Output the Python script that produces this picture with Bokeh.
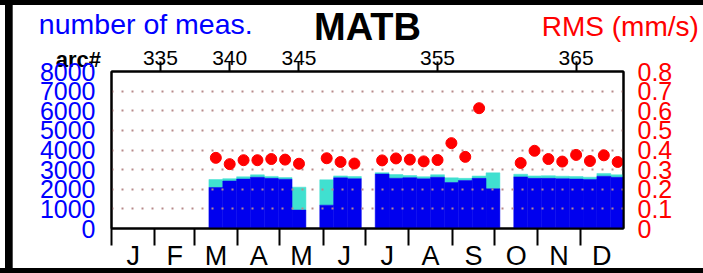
import numpy as np
from bokeh.plotting import figure
from bokeh.models import (Range1d, LinearAxis, FixedTicker,
                          ColumnDataSource, Grid, CustomJSTickFormatter, NumeralTickFormatter)
from bokeh.embed import file_html
from bokeh.resources import INLINE

# ---------------- data ----------------
arcs = [339, 340, 341, 342, 343, 344, 345, 347, 348, 349, 351, 352, 353, 354,
        355, 356, 357, 358, 359, 361, 362, 363, 364, 365, 366, 367, 368]
n_used = [2090, 2420, 2520, 2613, 2555, 2511, 942, 1190, 2580, 2540, 2775, 2562, 2590, 2532,
          2613, 2345, 2440, 2555, 2025, 2630, 2555, 2555, 2540, 2520, 2497, 2665, 2610]
n_total = [2496, 2540, 2633, 2734, 2655, 2597, 2106, 2481, 2680, 2650, 2845, 2749, 2700, 2640,
           2740, 2580, 2555, 2675, 2835, 2765, 2680, 2690, 2665, 2650, 2615, 2805, 2735]
rms = [0.360, 0.328, 0.348, 0.348, 0.354, 0.351, 0.330, 0.358, 0.339, 0.331, 0.347, 0.357,
       0.351, 0.342, 0.349, 0.435, 0.365, 0.613, None, 0.334, 0.396, 0.354, 0.341, 0.375,
       0.344, 0.373, 0.339]

arc_ticks = [335, 340, 345, 355, 365]
count_ticks = [0, 1000, 2000, 3000, 4000, 5000, 6000, 7000, 8000]
rms_ticks = [0, 0.1, 0.2, 0.3, 0.4, 0.5, 0.6, 0.7, 0.8]
grid_values = [1000, 2000, 3000, 4000, 5000, 6000, 7000]
month_labels = ["J", "F", "M", "A", "M", "J", "J", "A", "S", "O", "N", "D"]
month_days = [31, 28, 31, 30, 31, 30, 31, 31, 30, 31, 30, 31]

title_text = "MATB"
left_title = "number of meas."
right_title = "RMS (mm/s)"
top_axis_title = "arc#"

month_starts = [int(v) for v in np.concatenate([[0], np.cumsum(month_days)[:-1]])]
month_mids = [s + d / 2 for s, d in zip(month_starts, month_days)]

rms_arr = np.array([np.nan if v is None else v for v in rms], dtype=float)

# ---------------- figure ----------------
FONT = "Liberation Sans"
W, H = 703, 273
FL, FR, FT, FB = 111, 623, 71, 229   # frame edges in canvas pixels
H_EM, DESC_EM = 1.14, 0.21           # estimated text box height / descent (em)
NBSP_EM = 0.278                      # advance width of a no-break space (em)

# black outer frame pieces painted as the element's CSS background (canvas border left transparent)
frame_css = ("linear-gradient(#000,#000) 0px 0px / 100% 5px no-repeat, "
             "linear-gradient(#000,#000) 5px 0px / 7.7px 100% no-repeat, "
             "linear-gradient(#000,#000) 0px 267.7px / 100% 5.3px no-repeat, #ffffff")

p = figure(width=W, height=H, output_backend="svg", toolbar_location=None,
           x_range=Range1d(331.47, 368.42), y_range=Range1d(0, 8000),
           x_axis_type=None, y_axis_type=None,
           min_border_left=FL, min_border_right=W - FR, min_border_top=FT,
           min_border_bottom=H - FB,
           styles={"background": frame_css})
p.extra_x_ranges = {"days": Range1d(0, 365), "px": Range1d(FL, FR)}
p.extra_y_ranges = {"rms": Range1d(0, 0.8)}
p.outline_line_color = "black"
p.outline_line_width = 2
p.background_fill_color = "white"
p.border_fill_color = None

grid = Grid(dimension=1, ticker=FixedTicker(ticks=grid_values),
            grid_line_color="#b88a8a", grid_line_width=2, grid_line_dash="2 8")
grid.level = "underlay"
p.add_layout(grid, "center")

src = ColumnDataSource(dict(arc=arcs, used=n_used, total=n_total, rms=rms_arr))
r1 = p.vbar(x="arc", width=1, bottom="used", top="total", source=src,
            fill_color="#40e0d0", line_color="#40e0d0", line_width=0.5)
r2 = p.vbar(x="arc", width=1, bottom=0, top="used", source=src,
            fill_color="#0000ee", line_color="#0000ee", line_width=0.5)
r1.level = "image"
r2.level = "image"
p.scatter("arc", "rms", y_range_name="rms", size=11, fill_color="#ff0000",
          line_color="#ff0000", source=src)

AX = dict(axis_line_color="black", axis_line_width=2)
NOTICK = dict(major_tick_in=0, major_tick_out=0, minor_tick_in=0, minor_tick_out=0)

# top axis (arc#) - nearest to the frame
ARC_TICK, ARC_SO, ARC_FS = 10, -3, 21
xt = LinearAxis(ticker=FixedTicker(ticks=arc_ticks), **AX,
                major_tick_in=0, major_tick_out=ARC_TICK, major_tick_line_width=2,
                major_tick_line_color="black", minor_tick_in=0, minor_tick_out=0,
                major_label_text_color="black", major_label_text_font=FONT,
                major_label_text_font_size=f"{ARC_FS}px", major_label_standoff=ARC_SO)
p.add_layout(xt, "above")
rule = FT - (ARC_TICK + ARC_SO + H_EM * ARC_FS)   # predicted position of the next stacked axis

# "arc#": a tick label at the frame's left edge, shifted left with no-break spaces
ARCT_FS = 22
pad = "\u00a0" * 11
so_arct = int(round(rule - (59 + DESC_EM * ARCT_FS)))
xa = LinearAxis(x_range_name="px", ticker=FixedTicker(ticks=[FL + 0.5]),
                formatter=CustomJSTickFormatter(args=dict(t=top_axis_title + pad),
                                                code="return t;"),
                axis_line_color=None, **NOTICK, major_label_standoff=so_arct,
                major_label_text_font=FONT, major_label_text_font_size=f"{ARCT_FS}px",
                major_label_text_color="black", major_label_text_font_style="bold")
p.add_layout(xa, "above")

FRAME_CX = (FL + FR) / 2


# heading texts as axis labels of tick-less axes; the label is centred on the frame,
# so no-break spaces on one side move the visible words to their place
def heading(text, cx, standoff, size, color, bold=False):
    shift = cx - FRAME_CX
    n = int(round(abs(shift) * 2 / (NBSP_EM * size)))
    label = ("\u00a0" * n + text) if shift > 0 else (text + "\u00a0" * n)
    ax = LinearAxis(x_range_name="px", ticker=FixedTicker(ticks=[]),
                    axis_line_color=None, **NOTICK,
                    axis_label=label, axis_label_standoff=standoff,
                    axis_label_text_font=FONT, axis_label_text_font_size=f"{size}px",
                    axis_label_text_color=color,
                    axis_label_text_font_style="bold" if bold else "normal")
    p.add_layout(ax, "above")


heading(left_title, 143.7, 4, 28.5, "#0000ff")
heading(right_title, 621.6, -37, 28, "#ff0000")
heading(title_text, 365, -43, 38, "black", bold=True)

# left axis (counts)
yl = LinearAxis(ticker=FixedTicker(ticks=count_ticks), **AX, **NOTICK,
                major_label_text_color="#0000ff", major_label_text_font=FONT,
                major_label_text_font_size="25px", major_label_standoff=16)
p.add_layout(yl, "left")

# right axis (rms)
yr = LinearAxis(y_range_name="rms", ticker=FixedTicker(ticks=rms_ticks),
                formatter=NumeralTickFormatter(format="0.[0]"), **AX, **NOTICK,
                major_label_text_color="#ff0000", major_label_text_font=FONT,
                major_label_text_font_size="25px", major_label_standoff=14)
p.add_layout(yr, "right")

# bottom axis (months)
xb = LinearAxis(x_range_name="days",
                ticker=FixedTicker(ticks=month_mids, minor_ticks=month_starts),
                formatter=CustomJSTickFormatter(args=dict(labels=month_labels),
                                                code="return labels[index];"),
                **AX, major_tick_in=0, major_tick_out=0,
                minor_tick_in=0, minor_tick_out=17, minor_tick_line_color="black",
                minor_tick_line_width=2,
                major_label_text_color="black", major_label_text_font=FONT,
                major_label_text_font_size="27px", major_label_standoff=-5)
p.add_layout(xb, "below")

open("out.html", "w").write(file_html(p, INLINE))
